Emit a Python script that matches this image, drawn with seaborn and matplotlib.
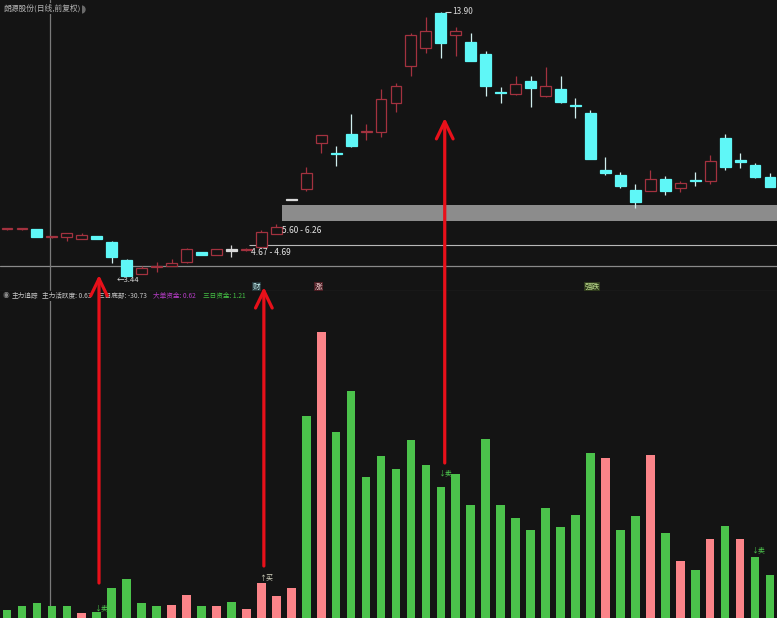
import seaborn as sns
import pandas as pd
import numpy as np
import matplotlib.pyplot as plt
from matplotlib.patches import ConnectionPatch

# daily candles (前复权)
opens = [5.29, 5.29, 5.30, 4.97, 4.99, 4.91, 5.02, 4.79, 4.07, 3.52,
         3.80, 3.84, 3.99, 4.39, 4.27, 4.47, 4.47, 4.59, 5.10, 6.46,
         6.89, 8.71, 8.30, 9.07, 9.13, 9.15, 10.29, 11.76, 12.47, 13.86,
         12.99, 12.71, 12.24, 10.71, 10.65, 11.17, 10.57, 10.85, 10.20, 9.90,
         7.64, 7.44, 6.85, 6.81, 7.28, 6.93, 7.21, 7.20, 8.91, 8.04,
         7.84, 7.36]
highs = [5.34, 5.34, 5.30, 5.02, 5.14, 5.14, 5.04, 4.81, 4.11, 3.84,
         3.99, 4.11, 4.53, 4.40, 4.52, 4.67, 4.53, 5.26, 5.50, 6.46,
         7.75, 9.03, 8.59, 9.86, 9.46, 10.85, 11.09, 13.07, 13.70, 13.90,
         13.31, 13.07, 12.35, 10.93, 11.36, 11.36, 11.72, 11.36, 10.49, 10.02,
         8.15, 7.56, 7.09, 7.64, 7.40, 7.20, 7.56, 8.23, 9.07, 8.31,
         7.92, 7.52]
lows = [5.27, 5.26, 4.99, 4.96, 4.83, 4.91, 4.89, 3.96, 3.44, 3.50,
        3.60, 3.84, 3.97, 4.26, 4.26, 4.19, 4.45, 4.59, 5.10, 6.46,
        6.81, 8.31, 7.80, 8.55, 8.83, 8.95, 9.94, 11.36, 12.28, 12.08,
        12.16, 11.94, 10.57, 10.29, 10.63, 10.14, 10.55, 10.31, 9.70, 8.06,
        7.44, 6.93, 6.13, 6.79, 6.65, 6.77, 7.01, 7.09, 7.64, 7.72,
        7.34, 6.95]
closes = [5.31, 5.31, 4.99, 5.00, 5.14, 5.06, 4.91, 4.19, 3.45, 3.76,
          3.81, 3.96, 4.51, 4.27, 4.51, 4.47, 4.51, 5.18, 5.38, 6.46,
          7.52, 9.02, 8.27, 8.59, 9.16, 10.45, 10.97, 12.99, 13.15, 12.67,
          13.15, 11.96, 10.97, 10.69, 11.05, 10.89, 10.97, 10.33, 10.18, 8.08,
          7.52, 7.01, 6.37, 7.28, 6.81, 7.12, 7.20, 8.00, 7.76, 7.96,
          7.36, 6.97]

# 主力追踪 bars (relative height) and colour class
flow = [8, 12, 15, 12, 12, 5, 6, 30, 39, 15,
        12, 13, 23, 12, 12, 16, 9, 35, 22, 30,
        202, 286, 186, 227, 141, 162, 149, 178, 153, 131,
        144, 113, 179, 113, 100, 88, 110, 91, 103, 165,
        160, 88, 102, 163, 85, 57, 48, 79, 92, 79,
        61, 43]
pink_days = [5, 11, 12, 14, 16, 17, 18, 19, 21, 40, 43, 45, 47, 49]

# zones / levels
zone_lo, zone_hi = 5.60, 6.26
level = 4.68
cross_x, cross_y = 2.87, 3.84

# signals: (day, bar value at arrow tail, price at arrow head)
arrows = [(6.15, 35, 3.48), (17.17, 52, 3.00), (29.26, 155, 9.70)]
sell_marks = [(6.3, 10), (29.3, 145), (50.2, 68)]
buy_marks = [(17.3, 40)]

bg = "#141414"
up_col = "#a3323f"
down_col = "#5ff7f7"
green = "#4bc24b"
pink = "#fb8489"

sns.set_theme(style="dark", rc={"axes.facecolor": bg, "figure.facecolor": bg})
plt.rcParams['font.family'] = ['Noto Sans CJK SC', 'DejaVu Sans']

n = len(opens)
days = np.arange(n)
df = pd.DataFrame({"day": days, "flow": flow,
                   "kind": ["流入" if i in pink_days else "流出" for i in days]})

W, H = 777, 618
top_h = 291
fig = plt.figure(figsize=(W / 100, H / 100), dpi=100)
ax1 = fig.add_axes([0, 1 - top_h / H, 1, top_h / H])
ax2 = fig.add_axes([0, 0, 1, (H - top_h) / H])

x0 = -0.468
x1 = 51.47
for ax in (ax1, ax2):
    ax.set_xlim(x0, x1)
    ax.set_xticks([])
    ax.set_yticks([])
    for s in ax.spines.values():
        s.set_visible(False)
ax1.set_ylim(2.846, 14.375)

# ---- upper panel: candles ----
ax1.fill_between([18.35, x1], zone_lo, zone_hi, color="#8c8c8c", lw=0, zorder=1)
ax1.hlines(level, 16.2, x1, color="#b8b8b8", lw=0.8, zorder=1)
ax1.axhline(cross_y, color="#8a8a8a", lw=0.9, zorder=1)
ax1.axvline(cross_x, color="#7a7a7a", lw=0.9, zorder=1)
ax2.axvline(cross_x, color="#7a7a7a", lw=0.9, zorder=1)

for i in days:
    o, h, l, c = opens[i], highs[i], lows[i], closes[i]
    if c > o:
        col, face = up_col, bg
    elif c < o:
        col, face = down_col, down_col
    else:
        col, face = "#d8d8d8", "#d8d8d8"
    wick = "#d0eeee" if c < o else col
    ax1.vlines(i, l, h, color=wick, lw=0.9, zorder=2)
    body = max(abs(c - o), 0.045)
    ax1.bar(i, body, bottom=min(o, c) - (0.0225 if c == o else 0), width=0.73,
            color=face, edgecolor=col, linewidth=0.9, zorder=3)

ax1.text(18.4, 5.24, "5.60 - 6.26", color="#e6e6e6", fontsize=6, va="center", zorder=4)
ax1.text(16.3, 4.36, "4.67 - 4.69", color="#e6e6e6", fontsize=6, va="center", zorder=4)
ax1.hlines(13.90, 29.3, 29.65, color="#d0d0d0", lw=0.8)
ax1.text(29.75, 13.90, "13.90", color="#d8d8d8", fontsize=6, va="center")
ax1.text(7.35, 3.27, "←3.44", color="#d8d8d8", fontsize=5.5, va="center")

ax1.text(16.7, 3.0, "财", color="#c8f4f4", fontsize=5.5, ha="center", va="center",
         bbox=dict(boxstyle="square,pad=0.1", fc="#24363a", ec="none"))
ax1.text(20.85, 3.0, "涨", color="#f0d0d0", fontsize=5.5, ha="center", va="center",
         bbox=dict(boxstyle="square,pad=0.1", fc="#4a1c22", ec="none"))
ax1.text(39.1, 3.0, "强跌", color="#c0e090", fontsize=5.5, ha="center", va="center",
         bbox=dict(boxstyle="square,pad=0.1", fc="#2e3a1c", ec="none"))
ax1.axhline(2.86, color="#2c2c2c", lw=1.0)

ax1.text(0.004, 0.985, "朗源股份(日线,前复权)", transform=ax1.transAxes, color="#b4b4b4",
         fontsize=5.6, va="top", zorder=5,
         bbox=dict(boxstyle="square,pad=0.15", fc=bg, ec="none"))
ax1.plot([0.104], [0.969], marker="o", ms=5, color="#6a6a6a", transform=ax1.transAxes)

# ---- lower panel: 主力追踪 bars ----
sns.barplot(data=df, x="day", y="flow", hue="kind", palette={"流出": green, "流入": pink},
            dodge=False, native_scale=True, width=0.58, saturation=1, legend=False,
            linewidth=0, edgecolor="none", ax=ax2, zorder=3)
ax2.set_xlim(x0, x1)
ax2.set_ylim(0, H - top_h)
ax2.set_xticks([])
ax2.set_yticks([])
ax2.set_xlabel("")
ax2.set_ylabel("")

for x, y in sell_marks:
    ax2.text(x, y, "↓卖", color=green, fontsize=5, ha="center", va="center", zorder=5)
for x, y in buy_marks:
    ax2.text(x, y, "↑买", color="#d8d8c4", fontsize=5, ha="center", va="center", zorder=5)

hy = 1 - 296 / H
header = [(3, "◉", "#8a8a8a"), (12, "主力追踪", "#c8c8c8"),
          (42, "主力活跃度: 0.63", "#c8c8c8"), (98, "三日底部: -30.73", "#c8c8c8"),
          (153, "大单资金: 0.62", "#b43cc4"), (203, "三日资金: 1.21", "#45c045")]
for px, txt, col in header:
    fig.text(px / W, hy, txt, color=col, fontsize=4.8, va="center",
             bbox=dict(boxstyle="square,pad=0.1", fc=bg, ec="none"))

# ---- red signal arrows across both panels ----
for x, yv, yp in arrows:
    con = ConnectionPatch(xyA=(x, yv), coordsA=ax2.transData,
                          xyB=(x, yp), coordsB=ax1.transData,
                          arrowstyle="->,head_length=0.62,head_width=0.3",
                          mutation_scale=20, color="#e8101a", lw=2.3, zorder=10)
    fig.add_artist(con)

fig.savefig("out.png", dpi=100, facecolor=bg)
